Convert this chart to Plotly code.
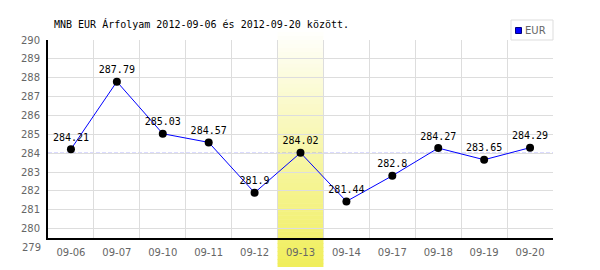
import plotly.graph_objects as go

dates = ["09-06", "09-07", "09-10", "09-11", "09-12", "09-13",
         "09-14", "09-17", "09-18", "09-19", "09-20"]
eur = [284.21, 287.79, 285.03, 284.57, 281.9, 284.02,
       281.44, 282.8, 284.27, 283.65, 284.29]
y_ticks = [280, 281, 282, 283, 284, 285, 286, 287, 288, 289, 290]
y_extra_label = 279
y_range = [279.5, 290]
highlight = "09-13"
title_text = "MNB EUR Árfolyam 2012-09-06 és 2012-09-20 között."
series_name = "EUR"

avg = sum(eur) / len(eur)
xs = list(range(len(dates)))
hi = dates.index(highlight)

W, H = 600, 270
L, R, T, B = 48, 47, 40, 32
pw, ph = W - L - R, H - T - B

def px_x(p):
    return (p - L) / pw

def px_y(p):
    return (H - B - p) / ph

fig = go.Figure()
fig.add_trace(go.Scatter(
    x=xs, y=eur, mode="lines+markers+text",
    line=dict(color="#0000ff", width=1),
    marker=dict(color="black", size=8),
    text=[f"{v:g}" for v in eur], textposition="top center",
    textfont=dict(family="DejaVu Sans Mono", size=10, color="black"),
    showlegend=False, cliponaxis=False, hoverinfo="skip"))

shapes = []
# highlight band (vertical gradient white -> yellow)
top_py, bot_py = 28, 267
N = 60
c0 = (255, 255, 255)
c1 = (240, 238, 90)
for i in range(N):
    f = (i + 0.5) / N
    col = tuple(round(c0[k] + (c1[k] - c0[k]) * f) for k in range(3))
    y0p = top_py + (bot_py - top_py) * i / N
    y1p = top_py + (bot_py - top_py) * (i + 1) / N + 0.6
    shapes.append(dict(type="rect", xref="x", yref="paper",
                       x0=hi - 0.5, x1=hi + 0.5, y0=px_y(min(y1p, bot_py)), y1=px_y(y0p),
                       fillcolor="rgb(%d,%d,%d)" % col, line=dict(width=0),
                       layer="between"))
# average line
shapes.append(dict(type="line", xref="paper", yref="y", x0=0, x1=1,
                   y0=avg, y1=avg, line=dict(color="#8c8cff", width=1, dash="4px,2px"),
                   layer="below"))
# legend box
shapes.append(dict(type="rect", xref="paper", yref="paper",
                   x0=px_x(511), x1=px_x(553), y0=px_y(40), y1=px_y(20),
                   line=dict(color="#dddddd", width=1), fillcolor="white"))
shapes.append(dict(type="rect", xref="paper", yref="paper",
                   x0=px_x(515.5), x1=px_x(521.5), y0=px_y(33.5), y1=px_y(27.5),
                   line=dict(color="#000080", width=1), fillcolor="#0000ff"))

extra_y_paper = (y_extra_label - y_range[0]) / (y_range[1] - y_range[0])

annotations = [
    dict(text=title_text, xref="paper", yref="paper", x=px_x(52), y=px_y(24),
         xanchor="left", yanchor="middle", showarrow=False,
         font=dict(family="DejaVu Sans Mono", size=10, color="black")),
    dict(text=series_name, xref="paper", yref="paper", x=px_x(523), y=px_y(30.5),
         xanchor="left", yanchor="middle", showarrow=False,
         font=dict(family="DejaVu Sans", size=10, color="#666666")),
    dict(text=str(y_extra_label), xref="paper", yref="paper", x=px_x(43), y=extra_y_paper,
         xanchor="right", yanchor="middle", showarrow=False,
         font=dict(family="DejaVu Sans", size=10, color="#666666")),
]

fig.update_layout(
    width=W, height=H, margin=dict(l=L, r=R, t=T, b=B, pad=0),
    paper_bgcolor="white", plot_bgcolor="white",
    shapes=shapes, annotations=annotations, showlegend=False,
    font=dict(family="DejaVu Sans", size=10, color="#666666"),
)
fig.update_xaxes(
    range=[-0.5, len(dates) - 0.5], tickvals=xs, ticktext=dates,
    showgrid=False, showline=True, linecolor="black", linewidth=2,
    ticks="", ticklabelstandoff=4, zeroline=False,
    minor=dict(tick0=0.5, dtick=1, showgrid=True, gridcolor="#dddddd", gridwidth=1, ticks=""),
)
fig.update_yaxes(
    range=y_range, tickvals=y_ticks, showgrid=True, gridcolor="#dddddd",
    gridwidth=1, showline=True, linecolor="black", linewidth=2, ticks="",
    ticklabelstandoff=4, zeroline=False,
)
fig.write_html("out.html")
